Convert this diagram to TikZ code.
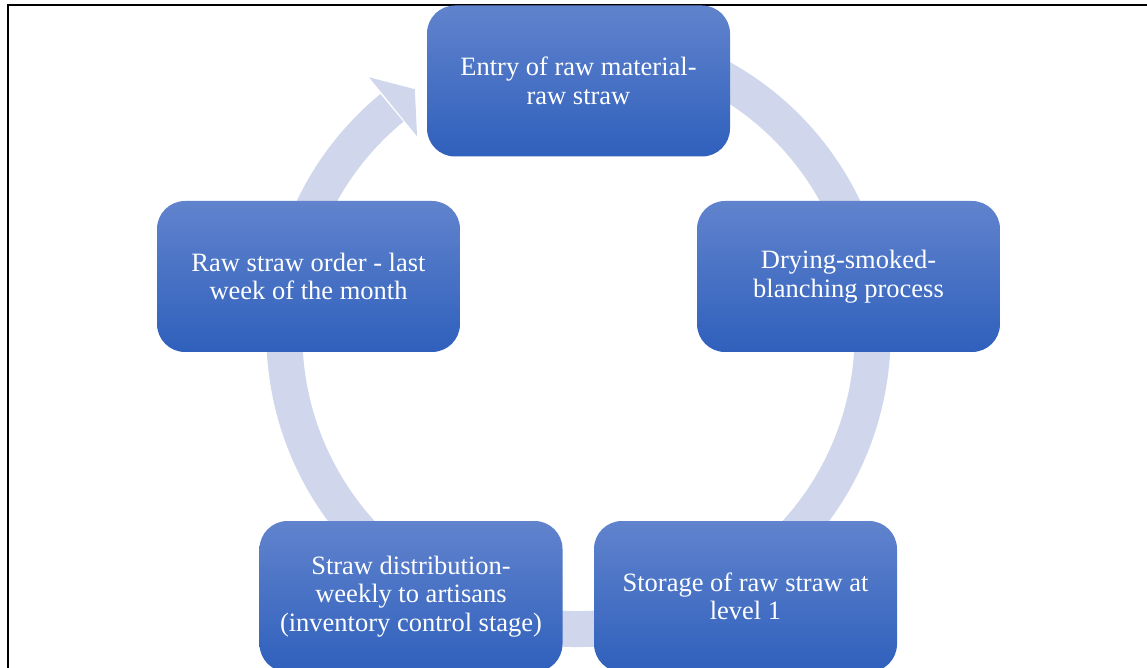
\documentclass[tikz,border=0pt]{standalone}
\usepackage{fontspec}
\setmainfont{Liberation Serif}
\usetikzlibrary{calc}
\definecolor{ringcol}{RGB}{208,214,235}
\definecolor{boxtop}{RGB}{97,131,205}
\definecolor{boxbot}{RGB}{47,96,188}
\begin{document}
\begin{tikzpicture}[x=1pt,y=1pt,
  stage/.style={rectangle, rounded corners=28pt, top color=boxtop, bottom color=boxbot,
    minimum width=303pt, minimum height=151pt, inner sep=0pt, text=white, align=center,
    font=\fontsize{26.5}{28.5}\selectfont},
  ring/.style={ringcol, line width=36pt},
  frame/.style={black, line width=2.2pt}]
\useasboundingbox (0,0) rectangle (1147,667);
\draw[frame] (8,-5) -- (8,662) -- (1152,662);
\coordinate (c) at (578.5,332);
% cycle arrow behind the boxes
\draw[ring] ($(c)+(75:294)$) arc[start angle=75, end angle=-230.6, radius=294];
\coordinate (hin) at ($(c)+(129.1:256)$);
\coordinate (hout) at ($(c)+(129.1:332)$);
\coordinate (htip) at ($(c)+(129.1:294)+(39.1:28)$);
\fill[ringcol] (hin) -- (hout) -- (htip) -- cycle;
% stages
\node[stage] (n1) at (578.5,586) {Entry of raw material-\\raw straw};
\node[stage] (n2) at (848.5,390.5) {Drying-smoked-\\blanching process};
\node[stage] (n3) at (745.5,70.5) {Storage of raw straw at\\level 1};
\node[stage] (n4) at (411,70.5) {Straw distribution-\\weekly to artisans\\(inventory control stage)};
\node[stage] (n5) at (308.5,390.5) {Raw straw order - last\\week of the month};
\end{tikzpicture}
\end{document}
